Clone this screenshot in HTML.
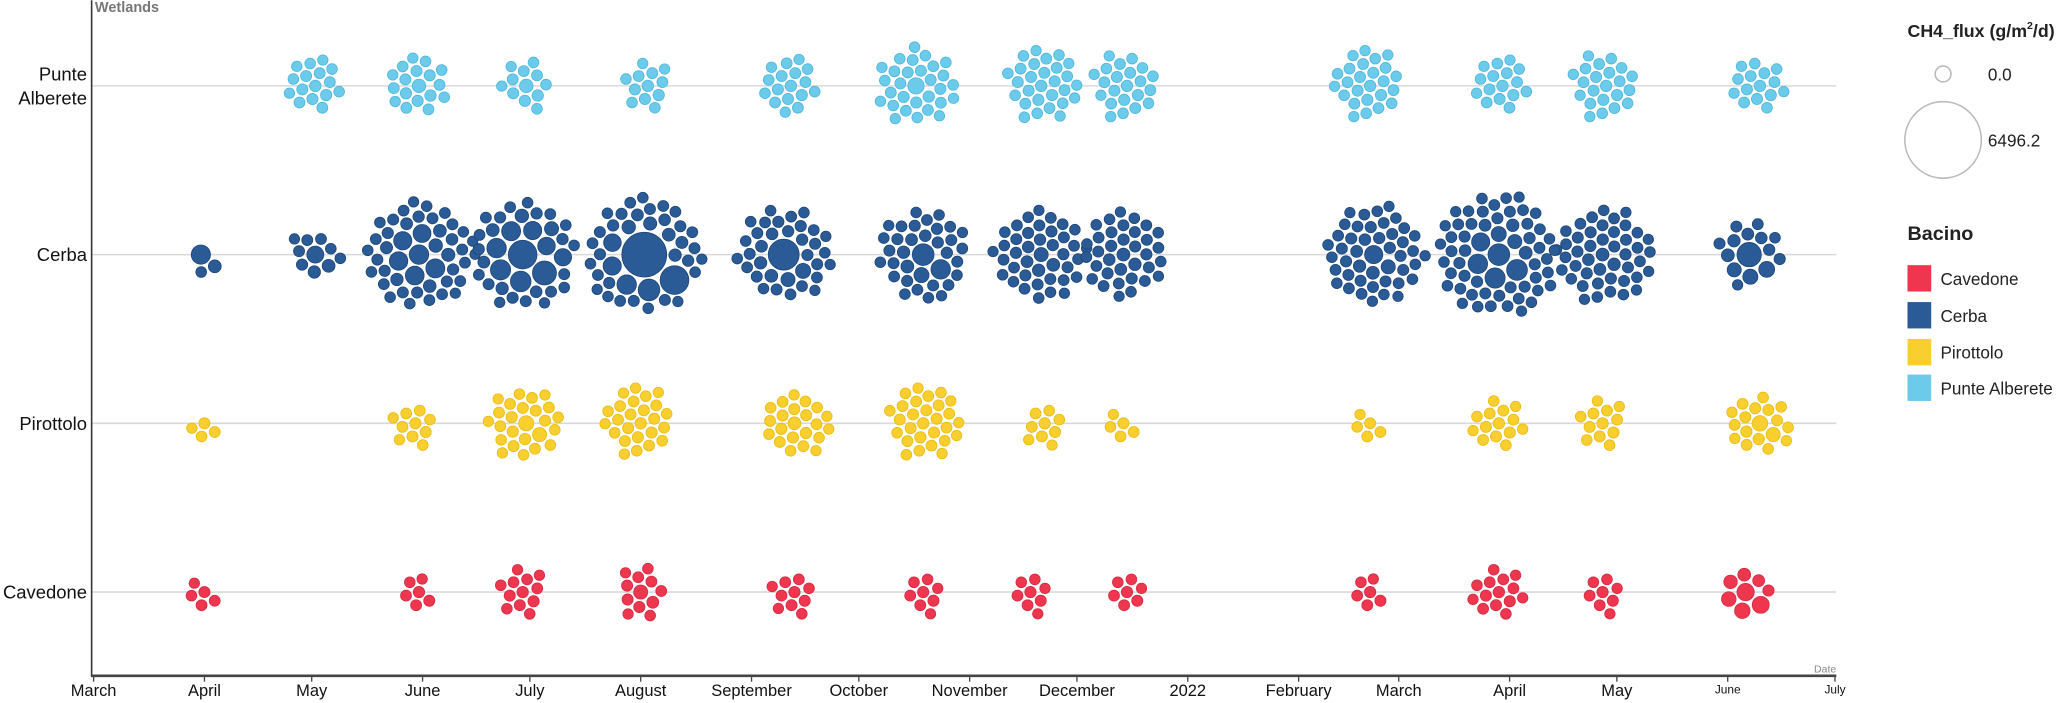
<!DOCTYPE html>
<html><head><meta charset="utf-8"><style>
html,body{margin:0;padding:0;background:#fff;}
svg{display:block;font-family:"Liberation Sans",Arial,sans-serif;}
</style></head><body>
<svg id="chart" width="2067" height="703" viewBox="0 0 1568 533" xmlns="http://www.w3.org/2000/svg">
<g id="grid"></g>
<g id="marks"></g>
<g id="axes">
<line x1="69.5" y1="0" x2="69.5" y2="513" stroke="#333" stroke-width="1.2"/>
<line x1="69" y1="512.5" x2="1393" y2="512.5" stroke="#444" stroke-width="2"/>
<text x="72" y="9" font-size="11" font-weight="bold" fill="#777">Wetlands</text>
<text x="1393" y="510" font-size="8" fill="#888" text-anchor="end">Date</text>
</g>
<g id="ylabels"></g>
<g id="xlabels"></g>
<g id="legend">
<text x="1447" y="28" font-size="13.5" font-weight="bold" fill="#222">CH4_flux (g/m<tspan font-size="8" dy="-6">2</tspan><tspan dy="6">/d)</tspan></text>
<circle cx="1474" cy="56" r="6" fill="none" stroke="#bbb" stroke-width="1.2"/>
<text x="1508" y="61" font-size="13" fill="#222">0.0</text>
<circle cx="1474" cy="106" r="29" fill="none" stroke="#bbb" stroke-width="1.2"/>
<text x="1508" y="111" font-size="13" fill="#222">6496.2</text>
<text x="1447" y="182" font-size="15" font-weight="bold" fill="#222">Bacino</text>
</g>
</svg>
<script>
const rows = ["Punte Alberete", "Cerba", "Pirottolo", "Cavedone"];
const colors = ["#6ccbea", "#2a5b96", "#f8cf2f", "#ef364f"];
const strokes = ["#4fb6db", "#1f4677", "#e8bb15", "#d42a42"];
const legendOrder = ["Cavedone", "Cerba", "Pirottolo", "Punte Alberete"];
const tickLabels = ["March","April","May","June","July","August","September","October","November","December","2022","February","March","April","May","June","July"];
const tickDates = ["2021-03-01","2021-04-01","2021-05-01","2021-06-01","2021-07-01","2021-08-01","2021-09-01","2021-10-01","2021-11-01","2021-12-01","2022-01-01","2022-02-01","2022-03-01","2022-04-01","2022-05-01","2022-06-01","2022-07-01"];

// Punte Alberete
const paDates = ["2021-05-02","2021-05-31","2021-06-30","2021-08-03","2021-09-12","2021-10-17","2021-11-21","2021-12-15","2022-02-21","2022-03-30","2022-04-28","2022-06-10"];
const paValues = [
 [3,2,4,1,3,5,2,1,4,3,2,6,1,3,2,4],
 [30,3,2,5,1,4,3,2,6,1,3,2,4,5,1,2,3,4],
 [30,3,2,5,1,4,3,2,6,1,3,2],
 [4,3,2,5,1,4,3,2,6,1,3,2],
 [3,2,4,1,3,5,2,1,4,3,2,6,1,3,2,4,3],
 [90,3,2,4,1,3,5,2,1,4,3,2,6,1,3,2,4,3,2,1,5,3,2,4,1,3,2,4,3,2],
 [3,2,4,1,3,5,2,1,4,3,2,6,1,3,2,4,3,2,1,5,3,2,4,1,3,2,4,3],
 [3,2,4,1,3,5,2,1,4,3,2,6,1,3,2,4,3,2,1,5,3,2],
 [3,2,4,1,3,5,2,1,4,3,2,6,1,3,2,4,3,2,1,5,3,2,4,1,3],
 [3,2,4,1,3,5,2,1,4,3,2,6,1,3,2,4],
 [3,2,4,1,3,5,2,1,4,3,2,6,1,3,2,4,3,2,1,5,3,2],
 [3,2,4,1,3,5,2,1,4,3,2,6,1,3,2]
];
// Cerba
const ceDates = ["2021-03-31","2021-05-02","2021-05-31","2021-06-29","2021-08-02","2021-09-10","2021-10-19","2021-11-21","2021-12-14","2022-02-22","2022-03-29","2022-04-27","2022-06-07"];
const ceValues = [
 [190,20,2],
 [110,20,15,3,2,5,1,4,3,2],
 [200,180,170,160,150,140,30,25,20,18,15,12,10,8,6,5,4,3,2,1,4,3,2,6,5,3,2,4,1,3,2,5,4,3,2,1,4,3,2,3,5,2,4,3,1],
 [760,430,250,230,200,180,150,130,120,40,30,20,15,10,8,6,5,4,3,2,1,4,3,2,6,5,3,2,4,1,3,2,5,4,3],
 [2600,760,300,200,150,130,30,25,20,15,12,10,8,6,5,4,3,2,1,4,3,2,6,5,3,2,4,1,3,2,5,4,3,2,1,4,3,2,3,5],
 [950,60,40,20,15,10,8,6,5,4,3,2,1,4,3,2,6,5,3,2,4,1,3,2,5,4,3,2,1,4,3,2,3,5,2],
 [300,200,60,20,15,10,8,6,5,4,3,2,1,4,3,2,6,5,3,2,4,1,3,2,5,4,3,2,1,4,3,2,3,5,2],
 [40,20,15,10,8,6,5,4,3,2,1,4,3,2,6,5,3,2,4,1,3,2,5,4,3,2,1,4,3,2,3,5,2,4,3,2,1,5,3,2],
 [20,15,10,8,6,5,4,3,2,1,4,3,2,6,5,3,2,4,1,3,2,5,4,3,2,1,4,3,2,3,5,2,4,3,2],
 [150,40,20,15,10,8,6,5,4,3,2,1,4,3,2,6,5,3,2,4,1,3,2,5,4,3,2,1,4,3,2,3,5,2,4,3,2,1,5,3,2,4,1,3,2],
 [300,260,230,200,150,60,40,20,15,10,8,6,5,4,3,2,1,4,3,2,6,5,3,2,4,1,3,2,5,4,3,2,1,4,3,2,3,5,2,4,3,2,1,5,3,2,4,1,3,2,5,4,3,2,1,4,3,2,3,5],
 [20,15,10,8,6,5,4,3,2,1,4,3,2,6,5,3,2,4,1,3,2,5,4,3,2,1,4,3,2,3,5,2,4,3,2,1,5,3,2,4,1,3,2,5,4],
 [450,80,60,40,20,15,10,8,6,5,4,3,2,1,4]
];
// Pirottolo
const piDates = ["2021-04-01","2021-05-30","2021-06-30","2021-08-01","2021-09-13","2021-10-19","2021-11-22","2021-12-14","2022-02-21","2022-03-29","2022-04-27","2022-06-10"];
const piValues = [
 [3,2,4,1],
 [3,2,4,1,3,5,2,1,4,3],
 [60,40,3,2,4,1,3,5,2,1,4,3,2,6,1,3,2,4,3,2,1,5,3,2,4],
 [3,2,4,1,3,5,2,1,4,3,2,6,1,3,2,4,3,2,1,5,3,2,4,1,3],
 [20,3,2,4,1,3,5,2,1,4,3,2,6,1,3,2,4,3,2,1,5,3],
 [3,2,4,1,3,5,2,1,4,3,2,6,1,3,2,4,3,2,1,5,3,2,4,1,3,2,4,3],
 [3,2,4,1,3,5,2,1,4],
 [3,2,4,1,3],
 [3,2,4,1,3],
 [3,2,4,1,3,5,2,1,4,3,2,6,1,3],
 [3,2,4,1,3,5,2,1,4,3,2,6],
 [70,40,3,2,4,1,3,5,2,1,4,3,2,6,1,3,2,4]
];
// Cavedone
const cvDates = ["2021-04-01","2021-05-31","2021-06-29","2021-08-01","2021-09-13","2021-10-19","2021-11-18","2021-12-15","2022-02-21","2022-03-29","2022-04-27","2022-06-06"];
const cvValues = [
 [3,2,4,1,3],
 [3,2,4,1,3,5],
 [3,2,4,1,3,5,2,1,4,3,2,6],
 [40,10,3,2,4,1,3,5,2,1,4,3],
 [3,2,4,1,3,5,2,1,4,3],
 [3,2,4,1,3,5,2,1],
 [3,2,4,1,3,5,2,1],
 [3,2,4,1,3,5,2],
 [3,2,4,1,3,5],
 [3,2,4,1,3,5,2,1,4,3,2,6,1,3],
 [3,2,4,1,3,5,2,1],
 [120,110,70,50,30,20,10,5]
];

const seriesDates = [paDates, ceDates, piDates, cvDates];
const seriesValues = [paValues, ceValues, piValues, cvValues];

const NS = "http://www.w3.org/2000/svg";
const X0 = Date.UTC(2021,2,1), X1 = Date.UTC(2022,6,1);
function xScale(ds){ const p = ds.split("-").map(Number); const t = Date.UTC(p[0],p[1]-1,p[2]); return 71 + (t - X0)/(X1 - X0)*(1392-71); }
const rowY = [65, 193, 321, 449];
function yScale(i){ return rowY[i]; }
function rScale(v){ return 3.7 + 21*Math.sqrt(Math.max(0,v)/6496.2); }
function mk(tag, attrs, parent){ const e = document.createElementNS(NS, tag); for (const k in attrs) e.setAttribute(k, attrs[k]); parent.appendChild(e); return e; }

const grid = document.getElementById("grid");
const marks = document.getElementById("marks");
const ylab = document.getElementById("ylabels");
const xlab = document.getElementById("xlabels");
const legend = document.getElementById("legend");

rows.forEach((name, i) => {
  const gl = mk("line", {x1:70, x2:1393, y1:yScale(i), y2:yScale(i), stroke:"#d9d9d9", "stroke-width":1.2}, grid);
  
  
  const t = mk("text", {x:66, "text-anchor":"end", "font-size":14, fill:"#111"}, ylab);
  
  
  if (name === "Punte Alberete") {
    const a = mk("tspan", {x:66, y:yScale(i)-4}, t); a.textContent = "Punte";
    const b = mk("tspan", {x:66, y:yScale(i)+14}, t); b.textContent = "Alberete";
  } else { t.setAttribute("y", yScale(i)+5); t.textContent = name; }
});

tickLabels.forEach((lab, k) => {
  const x = xScale(tickDates[k]);
  const tk = mk("line", {x1:x, x2:x, y1:512, y2:517, stroke:"#444", "stroke-width":1}, xlab);
  
  
  const small = k >= 15;
  const t = mk("text", {x:x, y: small ? 526 : 528, "text-anchor":"middle", "font-size": small ? 9 : 12.5, fill:"#111"}, xlab);
  
  
  t.textContent = lab;
});

function pack(cx, cy, radii){
  const placed = [];
  const order = radii.map((r,i)=>i).sort((a,b)=>radii[b]-radii[a]);
  const out = new Array(radii.length);
  order.forEach((idx, n) => {
    const r = radii[idx];
    let found = null;
    for (let d = 0; d < 200 && !found; d += 0.6) {
      const steps = d === 0 ? 1 : Math.max(8, Math.ceil(2*Math.PI*d/1.0));
      const off = (n*0.7) % (2*Math.PI);
      for (let s = 0; s < steps; s++) {
        const a = off + s*2*Math.PI/steps;
        const x = cx + d*Math.cos(a), y = cy + d*Math.sin(a);
        let ok = true;
        for (const p of placed) { const dx = p.x-x, dy = p.y-y, m = p.r + r + 1.6; if (dx*dx+dy*dy < m*m) { ok = false; break; } }
        if (ok) { found = {x, y, r}; break; }
      }
    }
    placed.push(found); out[idx] = found;
  });
  return out;
}

seriesValues.forEach((clusters, si) => {
  clusters.forEach((vals, ci) => {
    const cx = xScale(seriesDates[si][ci]), cy = yScale(si);
    const pos = pack(cx, cy, vals.map(rScale));
    pos.forEach((p, k) => {
      const c = mk("circle", {cx:p.x.toFixed(2), cy:p.y.toFixed(2), r:p.r.toFixed(2), fill:colors[si], stroke:strokes[si], "stroke-width":0.6}, marks);
      
      
    });
  });
});

const legendY = [211, 239, 267, 294];
legendOrder.forEach((name, k) => {
  const si = rows.indexOf(name);
  const sw = mk("rect", {x:1447, y:legendY[k]-10, width:18, height:20, fill:colors[si]}, legend);
  
  
  const t = mk("text", {x:1472, y:legendY[k]+5, "font-size":13, fill:"#222"}, legend);
  
  
  t.textContent = name;
});
</script>
</body></html>
